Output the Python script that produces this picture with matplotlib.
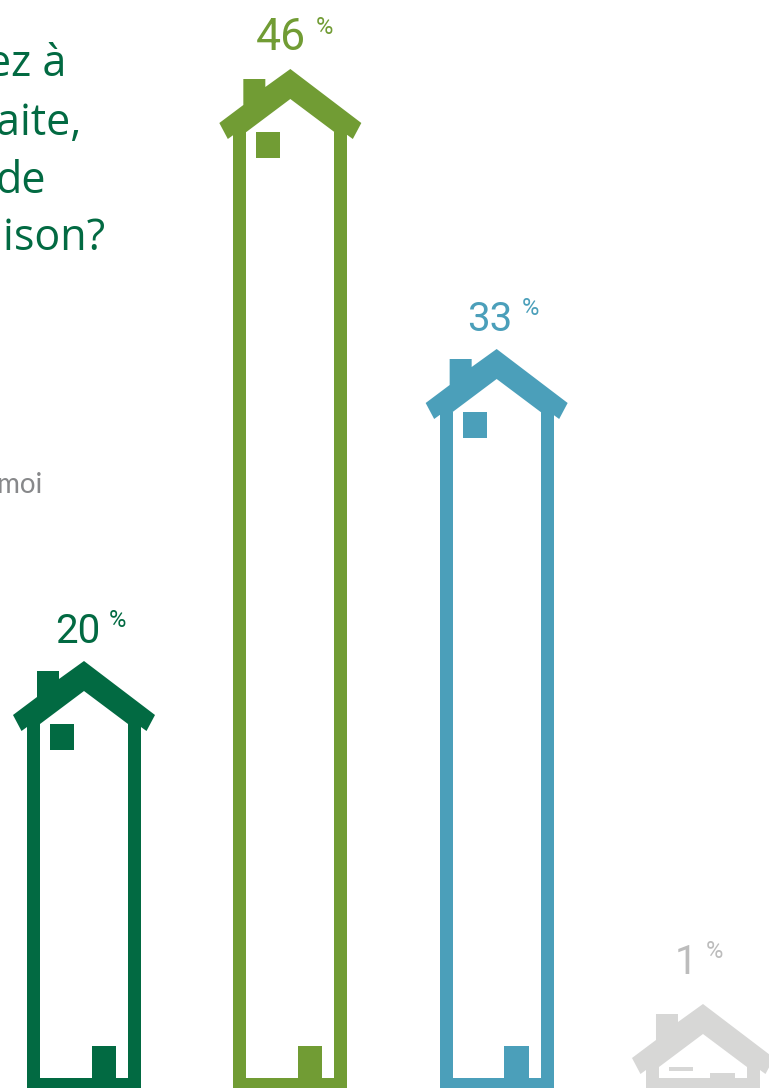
import matplotlib.pyplot as plt
from matplotlib.patches import Polygon, Rectangle

# Values printed above each house, and the drawn house heights.
VALUES = [20, 46, 33, 1]
HOUSE_HEIGHTS = [427, 1019, 739, 84]
WINDOW_HEIGHTS = [26, 26, 26, 4]
DOOR_HEIGHTS = [32, 32, 32, 5]
COLORS = ["#026a42", "#719c34", "#4b9fba", "#d7d7d6"]
LABEL_COLORS = ["#026a42", "#719c34", "#4b9fba", "#bcbcbc"]
LABEL_SIZES = [29, 32, 29, 29]
LABEL_GAPS = [18, 19, 18, 30]

TITLE_LINES = ["ez à", "aite,", "de", "aison?"]
TITLE_RIGHT = [66, 81, 46, 105]
TITLE_BASELINE = [76, 135, 193, 250]

WIDTH, HEIGHT = 769, 1088
FIRST_CENTER = 84
SPACING = 206.33
FLOOR = 10


def draw_house(ax, cx, height, window_h, door_h, color):
    top = height
    # Roof and chimney as one outline, walls and floor as rectangles.
    outline = [
        (0, 0), (71, -54), (62.5, -70), (57, -66), (44, -63), (0, -30),
        (-44, -63), (-57, -66), (-62.5, -70), (-71, -54), (-47, -36),
        (-47, -10), (-25, -10), (-25, -18),
    ]
    ax.add_patch(
        Polygon(
            [(cx + dx, top + dy) for dx, dy in outline],
            closed=True, facecolor=color, edgecolor="none",
        )
    )
    wall_top = top - 63
    ax.add_patch(Rectangle((cx - 57, 0), 13, wall_top, facecolor=color, edgecolor="none"))
    ax.add_patch(Rectangle((cx + 44, 0), 13, wall_top, facecolor=color, edgecolor="none"))
    ax.add_patch(Rectangle((cx - 57, 0), 114, FLOOR, facecolor=color, edgecolor="none"))
    # Window under the roof on the left, door on the floor on the right.
    ax.add_patch(
        Rectangle((cx - 34, top - 63 - window_h), 24, window_h, facecolor=color, edgecolor="none")
    )
    ax.add_patch(Rectangle((cx + 7.5, FLOOR), 24.5, door_h, facecolor=color, edgecolor="none"))


def draw_label(ax, cx, height, value, gap, size, color):
    right = cx + 16 if value >= 10 else cx - 6
    baseline = height + gap
    ax.text(
        right, baseline, str(value), ha="right", va="baseline", color=color,
        fontsize=size, family="Roboto",
    )
    ax.text(
        right + 9, baseline + 16, "%", ha="left", va="baseline", color=color,
        fontsize=17, family="Roboto",
    )


def main():
    fig = plt.figure(figsize=(WIDTH / 100, HEIGHT / 100), dpi=100)
    ax = fig.add_axes([0, 0, 1, 1])
    ax.set_xlim(0, WIDTH)
    ax.set_ylim(0, HEIGHT)
    ax.axis("off")

    for i, value in enumerate(VALUES):
        cx = FIRST_CENTER + SPACING * i
        draw_house(ax, cx, HOUSE_HEIGHTS[i], WINDOW_HEIGHTS[i], DOOR_HEIGHTS[i], COLORS[i])
        draw_label(ax, cx, HOUSE_HEIGHTS[i], value, LABEL_GAPS[i], LABEL_SIZES[i], LABEL_COLORS[i])

    for line, right, base in zip(TITLE_LINES, TITLE_RIGHT, TITLE_BASELINE):
        ax.text(
            right, HEIGHT - base, line, ha="right", va="baseline", color="#026a42",
            fontsize=31, fontweight="medium", family="Open Sans",
        )
    ax.text(42, HEIGHT - 493, "moi", ha="right", va="baseline", color="#87888a", fontsize=20, family="Lato")

    fig.savefig("out.png", dpi=100)


if __name__ == "__main__":
    main()
